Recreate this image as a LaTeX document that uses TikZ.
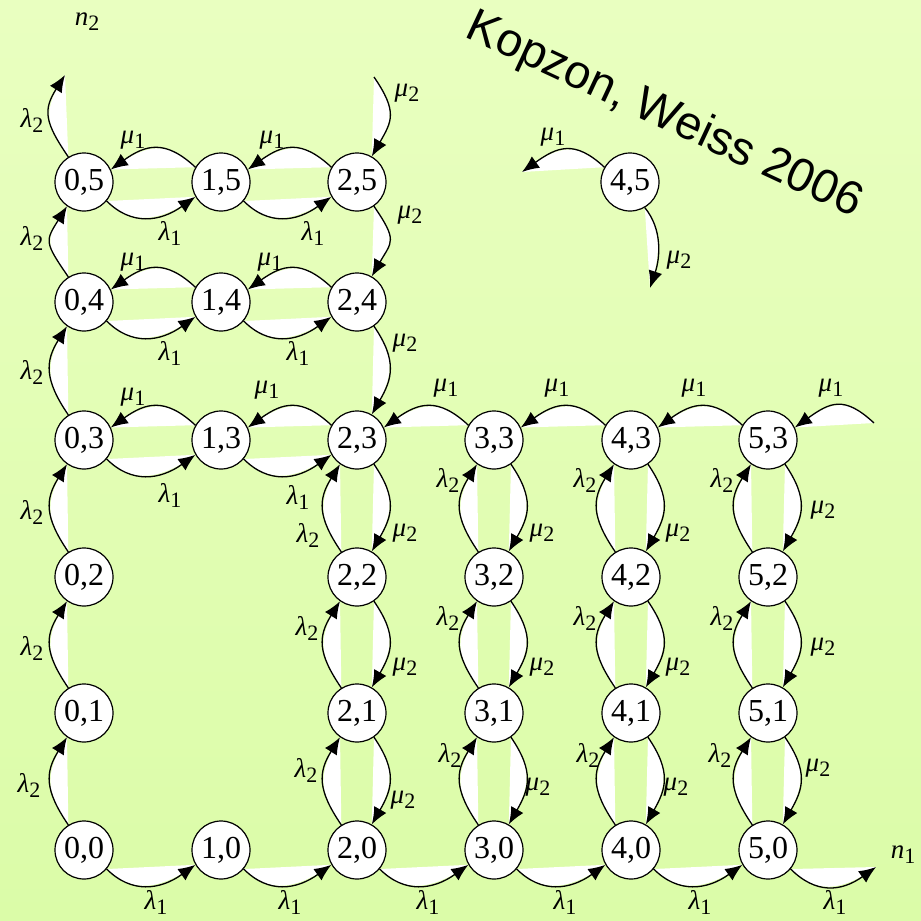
\documentclass[tikz,border=0pt]{standalone}
\usepackage{fontspec}
\setmainfont{Liberation Serif}
\newfontfamily\sansf{Liberation Sans}
\usetikzlibrary{arrows.meta}
\pgfdeclarelayer{back}
\pgfdeclarelayer{arcs}
\pgfsetlayers{back,arcs,main}
\definecolor{bgtop}{RGB}{233,255,192}
\definecolor{bgbot}{RGB}{219,252,168}
\newcommand\sbs[1]{\raisebox{-5pt}{\fontsize{22}{22}\selectfont #1}}
% filled arc with arrow: #1 start, #2 control spec, #3 end
\newcommand\farc[3]{\fill[white] #1 .. controls #2 .. #3 -- cycle;
  \draw[arc] #1 .. controls #2 .. #3;}
\begin{document}
\begin{tikzpicture}[x=1pt,y=1pt,
  st/.style={circle, draw, line width=1.2pt, fill=white, minimum size=58pt, inner sep=0pt, font=\fontsize{32}{32}\selectfont},
  lb/.style={inner sep=0pt, font=\fontsize{27}{27}\selectfont},
  arc/.style={line width=1.3pt, -{Latex[length=17pt,width=14pt]}}]
\begin{pgfonlayer}{back}
\shade[top color=bgtop, bottom color=bgbot] (0,0) rectangle (921,-921);
\end{pgfonlayer}
\useasboundingbox (0,0) rectangle (921,-921);

% states
\foreach \c/\r/\x/\y in {0/5/84/182, 1/5/221/182, 2/5/357/182, 4/5/630/182,
  0/4/84/302, 1/4/221/302, 2/4/357/302,
  0/3/84/440, 1/3/221/440, 2/3/357/440, 3/3/494/440, 4/3/631/440, 5/3/768/440,
  0/2/84/577, 2/2/357/577, 3/2/494/577, 4/2/631/577, 5/2/768/577,
  0/1/84/713, 2/1/357/713, 3/1/494/713, 4/1/631/713, 5/1/768/713,
  0/0/84/850, 1/0/221/850, 2/0/357/850, 3/0/494/850, 4/0/631/850, 5/0/768/850}
  \node[st] (n\c\r) at (\x,-\y) {\c,\r};

% free ends
\coordinate (f05) at (65,-75);
\coordinate (f25) at (374,-77);
\coordinate (f53) at (874,-423);
\coordinate (f50) at (876,-867);
\coordinate (f45a) at (522,-172);
\coordinate (f45b) at (650,-288);

\begin{pgfonlayer}{arcs}
% mu1: right to left, over the top
\foreach \a/\b in {15/05,25/15,14/04,24/14,13/03,23/13,33/23,43/33,53/43}
  {\farc{(n\a.150)}{+(-30,28) and +(35,25)}{(n\b.25)}}
\farc{(f53)}{+(-30,28) and +(35,25)}{(n53.25)}
\farc{(n45.150)}{+(-30,28) and +(35,25)}{(f45a)}
% lambda1: left to right, under the bottom
\foreach \a/\b in {05/15,15/25,04/14,14/24,03/13,13/23,00/10,10/20,20/30,30/40,40/50}
  {\farc{(n\a.-40)}{+(25,-25) and +(-35,-25)}{(n\b.210)}}
\farc{(n50.-40)}{+(25,-25) and +(-35,-25)}{(f50)}
% lambda2: upwards, on the left
\foreach \a/\b in {00/01,01/02,02/03,03/04,04/05,20/21,21/22,22/23,30/31,31/32,32/33,40/41,41/42,42/43,50/51,51/52,52/53}
  {\farc{(n\a.122)}{+(-24,35) and +(-22,-35)}{(n\b.235)}}
\farc{(n05.122)}{+(-24,35) and +(-22,-35)}{(f05)}
% mu2: downwards, on the right
\foreach \a/\b in {25/24,24/23,23/22,22/21,21/20,33/32,32/31,31/30,43/42,42/41,41/40,53/52,52/51,51/50}
  {\farc{(n\a.-55)}{+(24,-35) and +(20,35)}{(n\b.60)}}
\farc{(f25)}{+(24,-35) and +(20,35)}{(n25.60)}
\farc{(n45.-60)}{+(18,-22) and +(10,30)}{(f45b)}
\end{pgfonlayer}

% rate labels
\foreach \x/\y in {170/233, 313/233, 170/353, 298/353, 170/495, 298/497, 156/902, 290/902, 428/902, 565/902, 700/902, 835/902}
  \node[lb] (la-\x-\y) at (\x,-\y) {\textit{λ}\sbs{1}};
\foreach \x/\y in {133/140, 272/140, 133/262, 270/262, 133/397, 267/390, 446/388, 557/388, 694/388, 831/388, 553/137}
  \node[lb] (mu-\x-\y) at (\x,-\y) {\textit{μ}\sbs{1}};
\foreach \x/\y in {32/120, 32/238, 32/372, 32/512, 32/648, 29/785, 308/535, 307/628, 306/770, 448/480, 448/618, 450/755, 585/480, 585/618, 588/755, 722/480, 722/618, 720/755}
  \node[lb] (lb-\x-\y) at (\x,-\y) {\textit{λ}\sbs{2}};
\foreach \x/\y in {407/93, 410/215, 405/343, 405/533, 405/667, 403/800, 542/533, 542/667, 538/787, 678/533, 678/667, 676/787, 823/510, 823/647, 818/768, 679/260}
  \node[lb] (mb-\x-\y) at (\x,-\y) {\textit{μ}\sbs{2}};

% axes labels and title
\node[lb] (ax2) at (87,-22) {\textit{n}\sbs{2}};
\node[lb] (ax1) at (903,-855) {\textit{n}\sbs{1}};
\node[rotate=-25, inner sep=0pt, font=\sansf\fontsize{47}{47}\selectfont] (title) at (664,-116) {Kopzon, Weiss 2006};
\end{tikzpicture}
\end{document}
